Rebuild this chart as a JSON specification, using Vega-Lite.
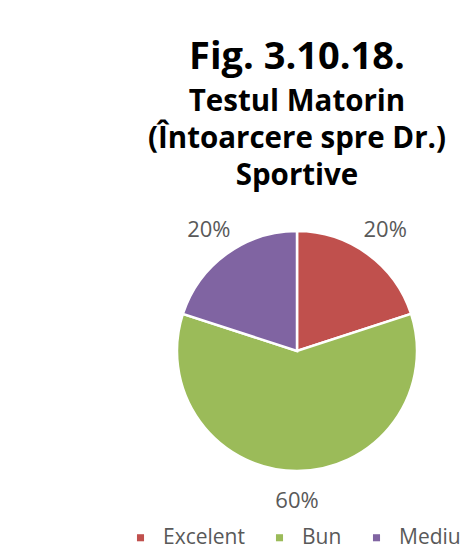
{
  "$schema": "https://vega.github.io/schema/vega-lite/v6.json",
  "autosize": "none",
  "width": 334,
  "height": 302,
  "padding": {"left": 130, "top": 200, "right": 3, "bottom": 55},
  "background": "white",
  "title": {
    "text": "Fig. 3.10.18.",
    "subtitle": ["Testul Matorin", "(Întoarcere spre Dr.)", "Sportive"],
    "anchor": "middle",
    "font": "Open Sans",
    "fontSize": 38,
    "fontWeight": "bold",
    "color": "#000000",
    "subtitleFont": "Open Sans",
    "subtitleFontSize": 29.5,
    "subtitleFontWeight": "bold",
    "subtitleColor": "#000000",
    "subtitleLineHeight": 37,
    "subtitlePadding": 11,
    "offset": 10
  },
  "data": {
    "values": [
      {"categorie": "Excelent", "procent": 20, "eticheta": "20%"},
      {"categorie": "Bun", "procent": 60, "eticheta": "60%"},
      {"categorie": "Mediu", "procent": 20, "eticheta": "20%"}
    ]
  },
  "encoding": {
    "theta": {"field": "procent", "type": "quantitative", "stack": true},
    "order": {"field": "ord", "type": "quantitative"}
  },
  "transform": [
    {"window": [{"op": "row_number", "as": "ord"}]}
  ],
  "layer": [
    {
      "mark": {"type": "arc", "outerRadius": 120, "stroke": "white", "strokeWidth": 2.5},
      "encoding": {
        "color": {
          "field": "categorie",
          "type": "nominal",
          "sort": ["Excelent", "Bun", "Mediu"],
          "scale": {"domain": ["Excelent", "Bun", "Mediu"], "range": ["#C0504D", "#9BBB59", "#8064A2"]},
          "legend": {
            "title": null,
            "orient": "none",
            "legendX": 0,
            "legendY": 327,
            "direction": "horizontal",
            "symbolType": "square",
            "symbolSize": 50,
            "labelFont": "Open Sans",
            "labelFontSize": 21,
            "labelColor": "#595959",
            "labelOffset": 12,
            "columnPadding": 24,
            "symbolStrokeWidth": 0
          }
        }
      }
    },
    {
      "mark": {"type": "text", "radius": 150, "font": "Open Sans", "fontSize": 22, "color": "#595959"},
      "encoding": {
        "text": {"field": "eticheta", "type": "nominal"}
      }
    }
  ]
}
